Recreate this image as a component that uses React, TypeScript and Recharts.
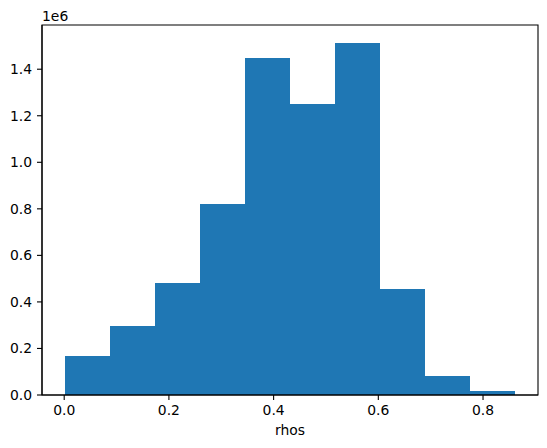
import { ComposedChart, XAxis, YAxis, ReferenceArea, Label, Line } from 'recharts'

// histogram of rhos, 10 equal bins
const binEdges = [0.001, 0.087, 0.173, 0.259, 0.345, 0.431, 0.517, 0.603, 0.689, 0.775, 0.862]
const binCounts = [167600, 296500, 481300, 822000, 1448000, 1250600, 1512700, 455500, 83000, 17200]
const xTicks = [0, 0.2, 0.4, 0.6, 0.8]
const yTicks = [0, 200000, 400000, 600000, 800000, 1000000, 1200000, 1400000]

const FONT = 'DejaVu Sans, sans-serif'
const BLUE = '#1f77b4'
const X_DOMAIN: [number, number] = [-0.0424, 0.905]
const Y_DOMAIN: [number, number] = [0, 1590000]

const bins = binCounts.map((count, i) => ({
  lo: binEdges[i],
  hi: binEdges[i + 1],
  mid: (binEdges[i] + binEdges[i + 1]) / 2,
  count,
}))

const tickStyle = { fontFamily: FONT, fontSize: 13.9, fill: '#000' }
const spine = { stroke: '#000', strokeWidth: 1.1 }

export default function App() {
  return (
    <div
      style={{
        position: 'absolute',
        left: 0,
        top: 0,
        width: 547,
        height: 448,
        background: '#fff',
        fontFamily: FONT,
        fontSize: 13.9,
      }}
    >
      <ComposedChart
        width={547}
        height={448}
        data={bins}
        margin={{ top: 25, right: 9, bottom: 23, left: 0 }}
      >
        <XAxis
          dataKey="mid"
          type="number"
          domain={X_DOMAIN}
          ticks={xTicks}
          allowDataOverflow
          height={30}
          tickSize={5}
          tickMargin={5}
          tick={tickStyle}
          tickFormatter={(v: number) => v.toFixed(1)}
          tickLine={spine}
          axisLine={spine}
        >
          <Label value="rhos" position="bottom" offset={0} style={{ fontFamily: FONT, fontSize: 13.9, fill: '#000' }} />
        </XAxis>
        <YAxis
          type="number"
          domain={Y_DOMAIN}
          ticks={yTicks}
          allowDataOverflow
          width={42}
          tickSize={5}
          tickMargin={5}
          tick={tickStyle}
          tickFormatter={(v: number) => (v / 1e6).toFixed(1)}
          tickLine={spine}
          axisLine={spine}
        >
          <Label
            position="top"
            content={(props: any) => {
              const vb = props.viewBox || {}
              return (
                <text x={vb.x + vb.width} y={vb.y - 4} fontFamily={FONT} fontSize={13.9} fill="#000">
                  1e6
                </text>
              )
            }}
          />
        </YAxis>
        {bins.map((b, i) => (
          <ReferenceArea
            key={`bin-${i}`}
            x1={b.lo}
            x2={b.hi}
            y1={0}
            y2={b.count}
            fill={BLUE}
            fillOpacity={1}
            stroke="none"
            shapeRendering="crispEdges"
            ifOverflow="visible"
          />
        ))}
        {/* top and right spines */}
        <ReferenceArea
          x1={X_DOMAIN[0]}
          x2={X_DOMAIN[1]}
          y1={Y_DOMAIN[0]}
          y2={Y_DOMAIN[1]}
          fill="none"
          stroke="#000"
          strokeWidth={1.1}
          strokeOpacity={1}
          ifOverflow="visible"
        />
        <Line dataKey="count" stroke="none" dot={false} activeDot={false} isAnimationActive={false} legendType="none" />
      </ComposedChart>
    </div>
  )
}
